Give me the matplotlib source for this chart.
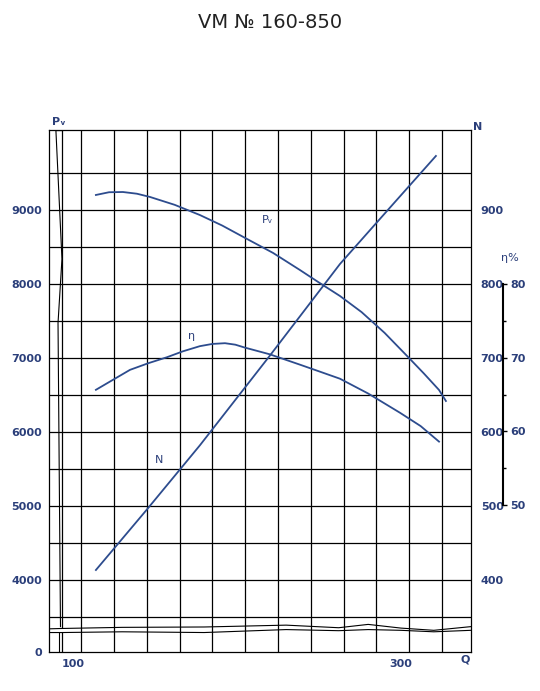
import matplotlib.pyplot as plt
import numpy as np

navy = "#2b3f7a"
curve = "#2d4c8e"

# (Q in m3/h-ish, Pv left axis, N = Pv/10, eta = Pv/100)
pv_q = [114, 122, 130.5, 139, 147, 162, 177.4, 191, 205, 222, 238.4, 250, 262.8, 276, 290, 304.3, 314, 323.2, 327.4]
pv_v = [9203, 9240, 9243, 9220, 9176, 9070, 8932, 8790, 8622, 8420, 8189, 8020, 7838, 7620, 7340, 7014, 6790, 6568, 6419]

eta_q = [114, 124, 134.8, 146, 157.3, 167, 177.4, 185, 192.7, 199, 204.9, 220, 238.4, 250, 262.8, 280, 299.4, 312, 323.2]
eta_v = [65.7, 67.0, 68.4, 69.3, 70.1, 70.9, 71.6, 71.9, 72.0, 71.8, 71.4, 70.5, 69.1, 68.2, 67.2, 65.2, 62.6, 60.8, 58.7]

n_q = [114, 145, 177.4, 220, 262.8, 292, 321.3]
n_v = [413.5, 495, 582, 703, 827, 900, 973]

pv_ticks = [9000, 8000, 7000, 6000, 5000, 4000]
n_ticks = [900, 800, 700, 600, 500, 400]
eta_ticks = [50, 60, 70, 80]

fig = plt.figure(figsize=(5.4, 6.91), dpi=100)
ax = fig.add_axes([49/540, 1-652/691, 422/540, 522/691])
ymin, ymax = 3027, 10081
xmin, xmax = 85.4, 342.7
ax.set_xlim(xmin, xmax)
ax.set_ylim(ymin, ymax)

for y in np.arange(3500, 10000, 500):
    ax.axhline(y, color="black", lw=0.9)
for x in np.arange(105, 330, 20):
    ax.axvline(x, color="black", lw=0.9)
for s in ax.spines.values():
    s.set_color("black")
    s.set_linewidth(0.9)

# axis break marks
ax.plot([93.3, 93.3], [3370, ymax], color="black", lw=0.9)
ax.plot([93.3, 93.3], [ymin, 3290], color="black", lw=0.9)
ax.plot([91.5, 91.5], [ymin, 3290], color="black", lw=0.8)
ax.plot([89.6, 93.3, 90.9, 92.4], [ymax, 8338, 7473, 3370], color="black", lw=0.8)
ax.plot([89.6, 93.3], [ymax, ymax], color="black", lw=0.9)
wx = np.array([xmin, 93.3, 130, 180, 230, 262, 280, 300, 320, xmax])
ax.plot(wx, [3340, 3345, 3360, 3365, 3390, 3355, 3400, 3350, 3320, 3370], color="black", lw=0.8)
ax.plot(wx, [3290, 3290, 3300, 3290, 3330, 3315, 3330, 3320, 3300, 3320], color="black", lw=0.8)

ax.plot(pv_q, pv_v, color=curve, lw=1.3)
ax.plot(eta_q, [e*100 for e in eta_v], color=curve, lw=1.3)
ax.plot(n_q, [n*10 for n in n_v], color=curve, lw=1.3)

ax.text(215, 8820, "Pᵥ", color=navy, fontsize=8)
ax.text(170, 7250, "η", color=navy, fontsize=8)
ax.text(150, 5580, "N", color=navy, fontsize=8)

ax.set_yticks([ymin] + pv_ticks, ["0"] + [str(t) for t in pv_ticks])
ax.set_xticks([100, 300], ["100", "300"])
ax.tick_params(length=0, colors=navy, labelsize=8, pad=5)
for lab in ax.get_xticklabels() + ax.get_yticklabels():
    lab.set_fontweight("bold")

ax2 = ax.twinx()
ax2.set_ylim(ymin, ymax)
ax2.set_yticks([n*10 for n in n_ticks], [str(t) for t in n_ticks])
ax2.tick_params(length=0, colors=navy, labelsize=8, pad=7)
for lab in ax2.get_yticklabels():
    lab.set_fontweight("bold")
for s in ax2.spines.values():
    s.set_visible(False)

ax3 = fig.add_axes([503/540, 1-505/691, 0.0001, 221/691])
ax3.set_ylim(50, 80)
ax3.set_xticks([])
for k in ["left", "top", "bottom"]:
    ax3.spines[k].set_visible(False)
ax3.spines["right"].set_linewidth(1.5)
ax3.yaxis.tick_right()
ax3.set_yticks(eta_ticks, [str(t) for t in eta_ticks])
ax3.set_yticks([55, 65, 75], minor=True)
ax3.tick_params(which="major", length=3, width=1, colors="black", labelcolor=navy, labelsize=8, pad=2)
ax3.tick_params(which="minor", length=2.5, width=1, colors="black")
for lab in ax3.get_yticklabels():
    lab.set_fontweight("bold")

fig.text(52/540, 1-122/691, "Pᵥ", color=navy, fontsize=8, ha="left", va="center", fontweight="bold")
fig.text(478/540, 1-127/691, "N", color=navy, fontsize=8, ha="center", va="center", fontweight="bold")
fig.text(465/540, 1-660/691, "Q", color=navy, fontsize=8, ha="center", va="center", fontweight="bold")
fig.text(510/540, 1-258/691, "η%", color=navy, fontsize=8, ha="center", va="center")
fig.text(0.5, 1-22/691, "VM № 160-850", fontsize=14, ha="center", va="center", color="#222222")

fig.savefig("out.png", dpi=100)
